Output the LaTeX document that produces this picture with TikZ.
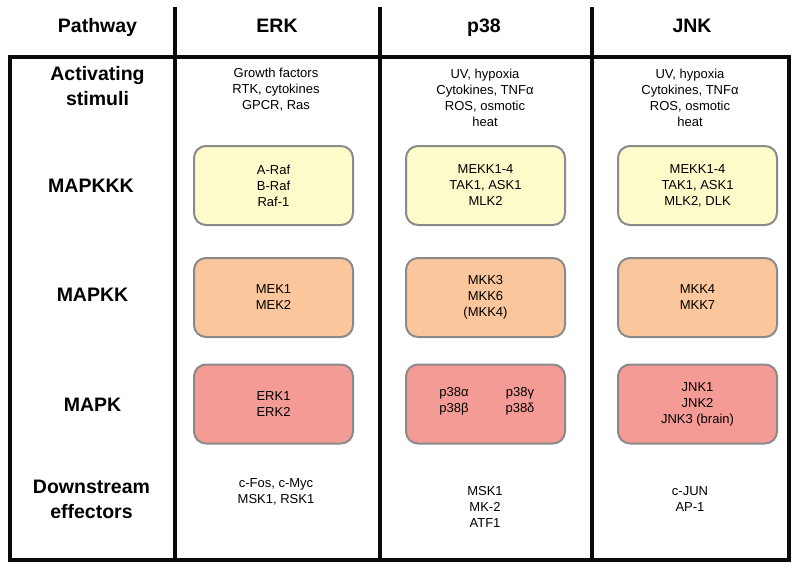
\documentclass[tikz,border=0pt]{standalone}
\usepackage{fontspec}
\setmainfont{Liberation Sans}
\definecolor{kkkfill}{HTML}{FEFBCB}
\definecolor{kkfill}{HTML}{FCC69C}
\definecolor{kfill}{HTML}{F49B95}
\definecolor{boxgray}{HTML}{8A8A8A}
\definecolor{framecol}{HTML}{0A0A0A}
\begin{document}
\begin{tikzpicture}[x=1pt,y=-1pt,
  hdr/.style={font=\fontsize{19.5}{25}\selectfont\bfseries, align=center, inner sep=0pt},
  txt/.style={font=\fontsize{13}{16}\selectfont, align=center, inner sep=0pt},
  kbox/.style={draw=boxgray, line width=2pt, rounded corners=12pt, minimum width=159pt, minimum height=79pt, align=center, inner sep=0pt, font=\fontsize{13}{16}\selectfont},
  gridline/.style={draw=framecol, line width=4pt}]
\useasboundingbox (0,0) rectangle (800,571);
% frame
\draw[gridline] (10,57) rectangle (789,560);
\draw[gridline] (175,7) -- (175,560);
\draw[gridline] (380,7) -- (380,560);
\draw[gridline] (592,7) -- (592,560);
\draw[gridline] (175,57) -- (789,57);
% row labels
\node[hdr, anchor=base] (pw) at (97.5,32) {Pathway};
\node[hdr] (act) at (97.5,86) {Activating\\stimuli};
\node[hdr] (mkkk) at (91,186) {MAPKKK};
\node[hdr] (mkk) at (92.5,295) {MAPKK};
\node[hdr] (mk) at (92.5,405) {MAPK};
\node[hdr] (dse) at (91.5,499) {Downstream\\effectors};
% column headers
\node[hdr, anchor=base] (herk) at (277,32) {ERK};
\node[hdr, anchor=base] (hp38) at (484,32) {p38};
\node[hdr, anchor=base] (hjnk) at (692,32) {JNK};
% stimuli
\node[txt] (serk) at (276,90) {Growth factors\\RTK, cytokines\\GPCR, Ras};
\node[txt] (sp38) at (485,98) {UV, hypoxia\\Cytokines, TNFα\\ROS, osmotic\\heat};
\node[txt] (sjnk) at (690,98) {UV, hypoxia\\Cytokines, TNFα\\ROS, osmotic\\heat};
% MAPKKK
\node[kbox, fill=kkkfill] (kkkerk) at (273.5,185.5) {A-Raf\\B-Raf\\Raf-1};
\node[kbox, fill=kkkfill] (kkkp38) at (485.5,185.5) {MEKK1-4\\TAK1, ASK1\\MLK2};
\node[kbox, fill=kkkfill] (kkkjnk) at (697.5,185.5) {MEKK1-4\\TAK1, ASK1\\MLK2, DLK};
% MAPKK
\node[kbox, fill=kkfill] (kkerk) at (273.5,297.5) {MEK1\\MEK2};
\node[kbox, fill=kkfill] (kkp38) at (485.5,297.5) {MKK3\\MKK6\\(MKK4)};
\node[kbox, fill=kkfill] (kkjnk) at (697.5,297.5) {MKK4\\MKK7};
% MAPK
\node[kbox, fill=kfill] (kerk) at (273.5,404) {ERK1\\ERK2};
\node[kbox, fill=kfill] (kp38) at (485.5,404) {};
\node[txt] (pab) at (454,401.5) {p38α\\p38β};
\node[txt] (pgd) at (520,401.5) {p38γ\\p38δ};
\node[kbox, fill=kfill] (kjnk) at (697.5,404) {JNK1\\JNK2\\JNK3 (brain)};
% downstream
\node[txt] (derk) at (276,492) {c-Fos, c-Myc\\MSK1, RSK1};
\node[txt] (dp38) at (485,507) {MSK1\\MK-2\\ATF1};
\node[txt] (djnk) at (690,499) {c-JUN\\AP-1};
\end{tikzpicture}
\end{document}
